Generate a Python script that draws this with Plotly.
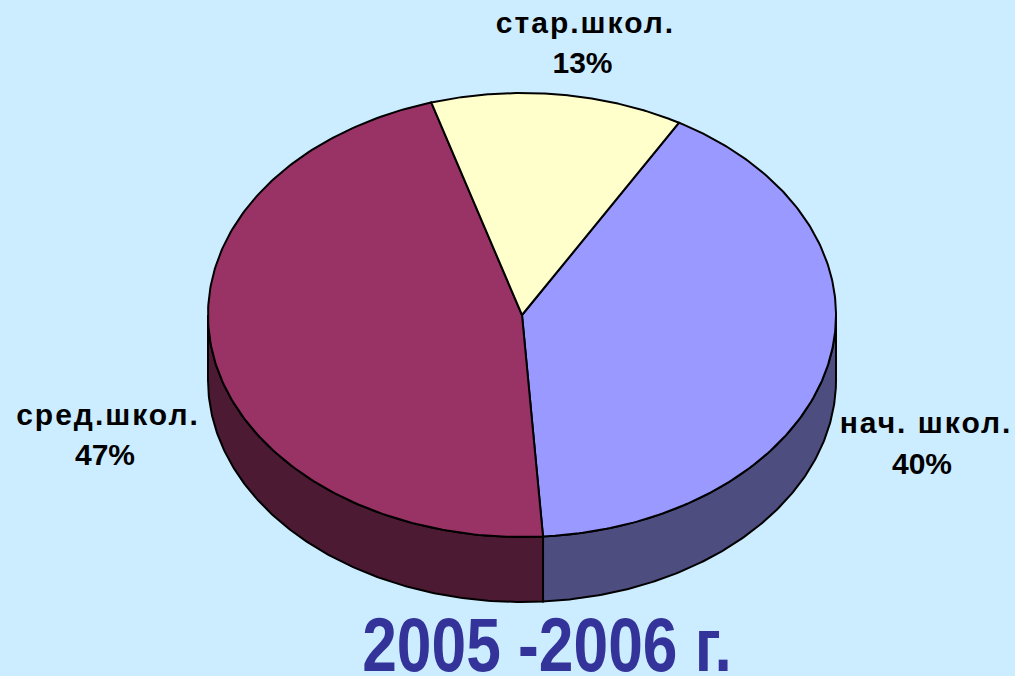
import numpy as np
import plotly.graph_objects as go

# Data, clockwise from the first slice
categories = ["нач. школ.", "сред.школ.", "стар.школ."]
shares = [40.6, 46.4, 13.0]          # slice sizes as measured in the picture
share_labels = ["40%", "47%", "13%"]
title_text = "2005 -2006 г."

# Styling
W, H = 1015, 676
BG = "#CCECFF"
TOP_COLORS = ["#9999FF", "#993366", "#FFFFCC"]
SIDE_COLORS = ["#4D4D80", "#4D1A33", "#808066"]
CX, CY, RX, RY, DEPTH = 522, 315, 314, 222, 65
START_DEG = 30
LABEL_POS = [(926, 425, 922, 466), (108, 417, 105, 457), (585.5, 25, 582.5, 65)]


def pt(deg, dy=0):
    a = np.radians(deg)
    return CX + RX * np.sin(a), CY - RY * np.cos(a) + dy


fig = go.Figure()
edges = START_DEG + np.concatenate([[0], np.cumsum(shares)]) * 360 / sum(shares)

# Side walls (only the front half, 90..270 degrees, is visible)
for i in range(len(shares)):
    a0, a1 = max(edges[i], 90), min(edges[i + 1], 270)
    if a1 <= a0:
        continue
    t = np.linspace(a0, a1, 160)
    xt, yt = pt(t)
    xb, yb = pt(t[::-1], DEPTH)
    fig.add_trace(go.Scatter(
        x=np.concatenate([xt, xb, xt[:1]]), y=np.concatenate([yt, yb, yt[:1]]),
        mode="lines", fill="toself", fillcolor=SIDE_COLORS[i],
        line=dict(color="#000000", width=2), hoverinfo="skip", showlegend=False))

# Top face
for i, name in enumerate(categories):
    t = np.linspace(edges[i], edges[i + 1], 200)
    xs, ys = pt(t)
    fig.add_trace(go.Scatter(
        x=np.concatenate([[CX], xs, [CX]]), y=np.concatenate([[CY], ys, [CY]]),
        mode="lines", fill="toself", fillcolor=TOP_COLORS[i],
        line=dict(color="#000000", width=2), name=name,
        hoverinfo="name", showlegend=False))

# Labels
label_font = dict(family="Liberation Sans", size=30, color="#000000", weight="bold")
for name, pct, (x1, y1, x2, y2) in zip(categories, share_labels, LABEL_POS):
    fig.add_trace(go.Scatter(
        x=[x1, x2], y=[y1, y2], mode="text", text=[name, pct],
        textposition="middle center", textfont=label_font,
        hoverinfo="skip", showlegend=False))

fig.add_trace(go.Scatter(
    x=[547], y=[652], mode="text", text=[title_text], textposition="middle center",
    textfont=dict(family="Liberation Sans", size=76, color="#333399", weight="bold"),
    hoverinfo="skip", showlegend=False))

fig.update_layout(
    width=W, height=H, margin=dict(l=0, r=0, t=0, b=0),
    paper_bgcolor=BG, plot_bgcolor=BG,
    xaxis=dict(range=[0, W], visible=False, fixedrange=True),
    yaxis=dict(range=[H, 0], visible=False, fixedrange=True),
)

# Page margin, letter spacing of the labels and narrow title face
post = """
document.body.style.margin='0';
document.body.style.background='%s';
document.querySelectorAll('.textpoint text').forEach(function(t){
  var s = t.textContent;
  if (s.indexOf('2005') === 0) {
    var b = t.getBBox(), c = b.x + b.width/2;
    var old = t.getAttribute('transform') || '';
    t.setAttribute('transform', old + ' translate(' + c + ',0) scale(0.82,1) translate(' + (-c) + ',0)');
  } else if (s.indexOf('%%') < 0) {
    t.style.letterSpacing = '2px';
  }
});
""" % BG
fig.write_html("out.html", config={"displayModeBar": False}, post_script=post)
